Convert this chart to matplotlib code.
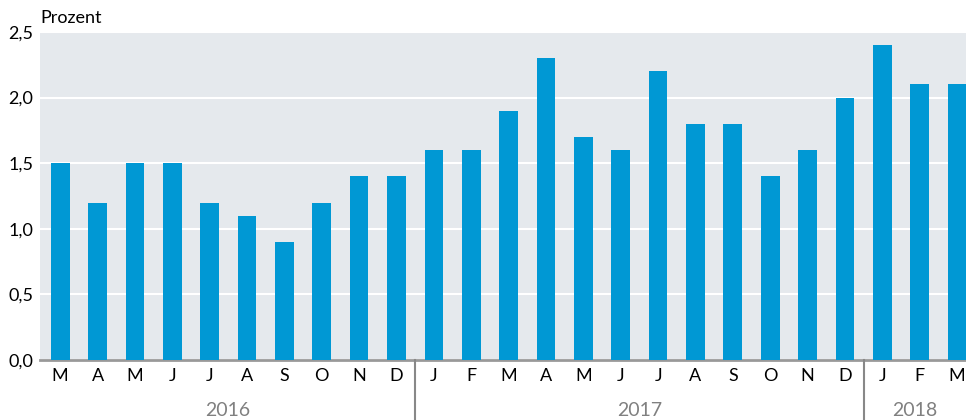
import matplotlib.pyplot as plt

# ******************* Data *******************
months = ["M", "A", "M", "J", "J", "A", "S", "O", "N", "D",
          "J", "F", "M", "A", "M", "J", "J", "A", "S", "O", "N", "D",
          "J", "F", "M"]
values = [1.5, 1.2, 1.5, 1.5, 1.2, 1.1, 0.9, 1.2, 1.4, 1.4,
          1.6, 1.6, 1.9, 2.3, 1.7, 1.6, 2.2, 1.8, 1.8, 1.4, 1.6, 2.0,
          2.4, 2.1, 2.1]
years = ["2016", "2017", "2018"]
year_counts = [10, 12, 3]
yticks = [0.0, 0.5, 1.0, 1.5, 2.0, 2.5]

plt.rcParams['font.family'] = ['Lato', 'DejaVu Sans']

fig = plt.figure(figsize=(9.66, 4.2), dpi=100)
ax = fig.add_axes([40/966, 60/420, 926/966, 328/420])
ax.set_facecolor("#e5e9ed")

x = list(range(len(values)))
ax.bar(x, values, width=0.5, color="#0098d4", zorder=3)

xmin, xmax = -0.54, 24.24
ax.set_xlim(xmin, xmax)
ax.set_ylim(0, 2.5)

# gridlines
ax.set_yticks(yticks)
ax.set_yticklabels([f"{v:.1f}".replace(".", ",") for v in yticks], fontsize=13)
ax.yaxis.grid(True, color="white", linewidth=1.5, zorder=1)
ax.tick_params(axis="y", length=0, pad=5)

ax.set_xticks(x)
ax.set_xticklabels(months, fontsize=13)
ax.tick_params(axis="x", length=0, pad=6)

for s in ["top", "right", "left"]:
    ax.spines[s].set_visible(False)
ax.spines["bottom"].set_color("#999999")
ax.spines["bottom"].set_linewidth(2)

# year separators and labels
start = xmin
pos = 0
for i, (yr, n) in enumerate(zip(years, year_counts)):
    pos += n
    end = pos - 0.5 if i < len(years) - 1 else xmax
    ax.text((start + end) / 2, -0.385, yr, ha="center", va="center",
            fontsize=14, color="#808080", transform=ax.transData, clip_on=False)
    if i < len(years) - 1:
        ax.plot([end, end], [0, -0.47], color="#888888", linewidth=1.5,
                clip_on=False, zorder=4)
    start = end

fig.text(40/966, 402/420, "Prozent", fontsize=13, ha="left", va="center")

fig.savefig("out.png", dpi=100)
